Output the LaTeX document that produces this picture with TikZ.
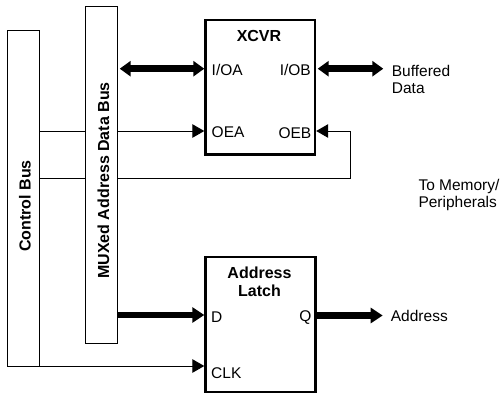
\documentclass[tikz,border=0pt]{standalone}
\usepackage{fontspec}
\setmainfont{Liberation Sans}
\usetikzlibrary{arrows.meta}
\begin{document}
\begin{tikzpicture}[x=1pt,y=-1pt,
  bus/.style={draw, line width=1pt, outer sep=0pt, inner sep=0pt},
  chip/.style={draw, line width=2.4pt, inner sep=0pt},
  wire/.style={line width=1pt},
  wirearrow/.style={line width=1pt, -{Triangle[length=12pt,width=13.5pt]}},
  busarrow/.style={line width=6.5pt, -{Triangle[length=12pt,width=15pt]}},
  dblarrow/.style={line width=6.5pt, {Triangle[length=11pt,width=15pt]}-{Triangle[length=11pt,width=15pt]}},
  txt/.style={font=\fontsize{15.5}{17.5}\selectfont, inner sep=0pt},
  btxt/.style={font=\bfseries\fontsize{16}{18.4}\selectfont, inner sep=0pt},
]
\useasboundingbox (0,0) rectangle (501,397);

% buses
\node[bus, minimum width=32.3pt, minimum height=336pt] (cbus) at (23.15,198) {};
\node[bus, minimum width=32.7pt, minimum height=336.6pt] (mux) at (101.35,175) {};
\node[btxt, rotate=90] (cbl) at (25,206) {Control Bus};
\node[btxt, rotate=90] (muxl) at (103.5,180.5) {MUXed Address Data Bus};

% chips
\node[chip, minimum width=109.5pt, minimum height=134.5pt] (xcvr) at (260.25,87.25) {};
\node[chip, minimum width=110pt, minimum height=135pt] (latch) at (260.5,324.2) {};

% labels
\node[btxt, anchor=base] (xl) at (259,41.7) {XCVR};
\node[txt, anchor=base west] (ioa) at (211.5,75) {I/OA};
\node[txt, anchor=base east] (iob) at (311,75) {I/OB};
\node[txt, anchor=base west] (oea) at (211.5,137.7) {OEA};
\node[txt, anchor=base east] (oeb) at (311.5,138) {OEB};
\node[txt, anchor=west, align=left] (buf) at (391.7,79.6) {Buffered\\Data};
\node[txt, anchor=west, align=left] (mem) at (418.3,194.8) {To Memory/\\Peripherals};
\node[btxt, align=center] (ll) at (259.5,281.6) {Address\\Latch};
\node[txt, anchor=base west] (dl) at (211,322.7) {D};
\node[txt, anchor=base east] (ql) at (311.7,321.5) {Q};
\node[txt, anchor=base west] (addr) at (390.7,321.7) {Address};
\node[txt, anchor=base west] (clk) at (211,378.3) {CLK};

% levels and free ends
\coordinate (yIO) at (0,68.7);
\coordinate (yOE) at (0,131);
\coordinate (yLow) at (0,178.3);
\coordinate (yD) at (0,315);
\coordinate (yQ) at (0,315.5);
\coordinate (oebturn) at (350.7,131);
\coordinate (bufend) at (383.3,68.7);
\coordinate (addrend) at (382.7,315.5);

% connectors
\draw[dblarrow] ([xshift=2pt]mux.east |- yIO) -- (xcvr.west |- yIO);
\draw[dblarrow] ([xshift=1.5pt]xcvr.east |- yIO) -- (bufend);
\draw[wire] (cbus.east |- yOE) -- (mux.west |- yOE);
\draw[wirearrow] (mux.east |- yOE) -- (xcvr.west |- yOE);
\draw[wire] (cbus.east |- yLow) -- (mux.west |- yLow);
\draw[wirearrow] (mux.east |- yLow) -| (oebturn) -- (xcvr.east |- oebturn);
\draw[busarrow] (mux.east |- yD) -- (latch.west |- yD);
\draw[busarrow] (latch.east |- yQ) -- (addrend);
\draw[wirearrow] (cbus.south east) -- (latch.west |- cbus.south east);
\end{tikzpicture}
\end{document}
